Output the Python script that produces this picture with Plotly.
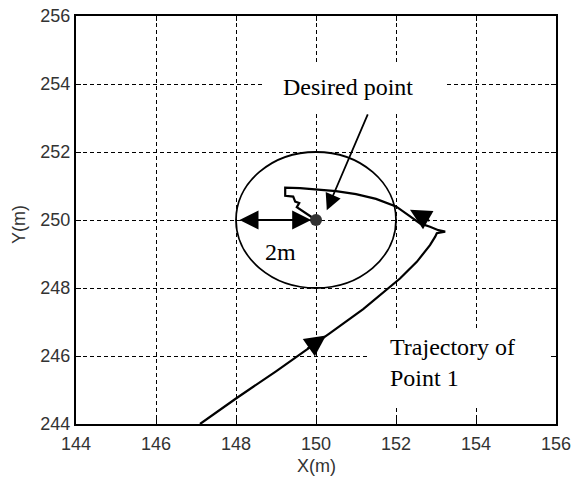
import plotly.graph_objects as go

# Trajectory of point 1 (metres)
traj_x = [147.10, 148.00, 149.00, 150.00, 150.35, 151.18, 151.81, 152.10, 152.52,
          152.85, 152.98, 153.02, 153.23, 153.06, 152.85, 152.60, 152.30, 152.00,
          151.50, 151.00, 150.50, 150.00, 149.60, 149.23, 149.23, 149.43, 149.48,
          149.58, 149.52, 150.00]
traj_y = [244.00, 244.75, 245.55, 246.37, 246.67, 247.38, 247.99, 248.28, 248.77,
          249.26, 249.51, 249.61, 249.66, 249.70, 249.80, 249.90, 250.15, 250.40,
          250.62, 250.76, 250.85, 250.91, 250.94, 250.95, 250.71, 250.69, 250.54,
          250.50, 250.38, 250.00]

# Desired point and tolerance radius
target_x = [150.0]
target_y = [250.0]
radius = 2.0

x_ticks = [144, 146, 148, 150, 152, 154, 156]
y_ticks = [244, 246, 248, 250, 252, 254, 256]

fig = go.Figure()

fig.add_trace(go.Scatter(
    x=traj_x, y=traj_y, mode="lines",
    line=dict(color="black", width=2.2), hoverinfo="skip", showlegend=False))

fig.add_trace(go.Scatter(
    x=target_x, y=target_y, mode="markers",
    marker=dict(color="#333333", size=12), showlegend=False))

# 2 m circle around the desired point
fig.add_shape(type="circle", xref="x", yref="y",
              x0=target_x[0] - radius, x1=target_x[0] + radius,
              y0=target_y[0] - radius, y1=target_y[0] + radius,
              line=dict(color="black", width=1.8))

# white panels behind the text labels (above grid, below data)
fig.add_shape(type="rect", xref="x", yref="y", layer="between",
              x0=148.675, x1=153.275, y0=253.18, y1=254.56,
              fillcolor="white", line=dict(width=0))
fig.add_shape(type="rect", xref="x", yref="y", layer="between",
              x0=151.3, x1=155.95, y0=244.56, y1=246.82,
              fillcolor="white", line=dict(width=0))

serif = dict(family="Liberation Serif, Times New Roman, serif", size=24, color="black")

fig.add_annotation(x=150.79, y=253.9, text="Desired point", showarrow=False,
                   font=serif, xanchor="center", yanchor="middle")
fig.add_annotation(x=151.8, y=245.8, text="Trajectory of<br>Point 1", showarrow=False,
                   font=serif, xanchor="left", yanchor="middle", align="left")
fig.add_annotation(x=149.1, y=249.06, text="2m", showarrow=False,
                   font=serif, xanchor="center", yanchor="middle")

# pointer to the desired point
fig.add_annotation(x=150.27, y=250.29, ax=151.31, ay=253.15, axref="x", ayref="y",
                   xref="x", yref="y", text="", showarrow=True,
                   arrowhead=2, arrowsize=1.8, arrowwidth=1.8, arrowcolor="black")

# 2 m double-headed dimension arrow
fig.add_annotation(x=149.88, y=250.0, ax=148.05, ay=250.0, axref="x", ayref="y",
                   xref="x", yref="y", text="", showarrow=True,
                   arrowhead=2, startarrowhead=2, arrowside="end+start",
                   arrowsize=1.9, startarrowsize=1.9, arrowwidth=2, arrowcolor="black")

# direction arrows on the trajectory
fig.add_annotation(x=150.25, y=246.6, ax=-20, ay=14, xref="x", yref="y",
                   text="", showarrow=True, arrowhead=2, arrowsize=2.1,
                   arrowwidth=2, arrowcolor="black")
fig.add_annotation(x=152.35, y=250.3, ax=21, ay=12, xref="x", yref="y",
                   text="", showarrow=True, arrowhead=2, arrowsize=2.1,
                   arrowwidth=2, arrowcolor="black")

tick_font = dict(family="Liberation Sans, Arial, sans-serif", size=18, color="#333333")

axis_common = dict(
    showline=True, linecolor="black", linewidth=2, mirror="ticks",
    ticks="inside", ticklen=5, tickwidth=1, tickcolor="black",
    showgrid=True, gridcolor="black", gridwidth=1, griddash="4px,3px",
    zeroline=False, tickfont=tick_font, automargin=False,
)

fig.update_xaxes(range=[144, 156], tickvals=x_ticks, ticktext=[str(v) for v in x_ticks],
                 ticklabelstandoff=2, **axis_common)
fig.update_yaxes(range=[244, 256], tickvals=y_ticks, ticktext=[str(v) for v in y_ticks],
                 **axis_common)

# axis titles
fig.add_annotation(x=0.5, y=-0.103, xref="paper", yref="paper", text="X(m)",
                   showarrow=False, font=tick_font, xanchor="center", yanchor="middle")
fig.add_annotation(x=-0.119, y=0.49, xref="paper", yref="paper", text="Y(m)",
                   showarrow=False, font=tick_font, textangle=-90,
                   xanchor="center", yanchor="middle")

fig.update_layout(
    width=573, height=480,
    margin=dict(l=76, r=17, t=16, b=56),
    plot_bgcolor="white", paper_bgcolor="white",
    showlegend=False,
)

fig.write_html("out.html")
